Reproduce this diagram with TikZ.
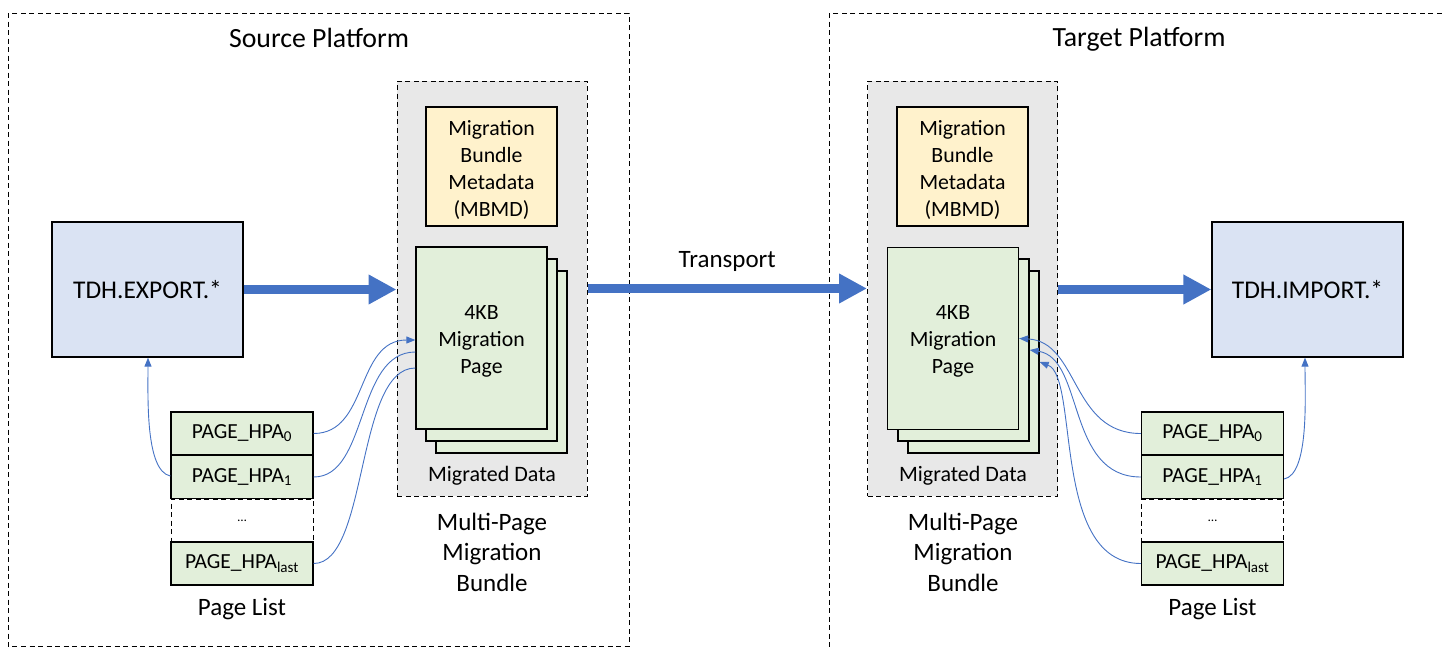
\documentclass[tikz,border=0pt]{standalone}
\usepackage{fontspec}
\setmainfont{Carlito}
\usetikzlibrary{arrows.meta,calc}
\definecolor{arrowblue}{HTML}{4472C4}
\definecolor{boxblue}{HTML}{DAE3F3}
\definecolor{pagegreen}{HTML}{E2EFDA}
\definecolor{metayellow}{HTML}{FFF2CC}
\definecolor{bundlegray}{HTML}{E8E8E8}
\tikzset{
  platform/.style={draw=black, line width=1pt, dash pattern=on 5pt off 3.5pt},
  bundlebox/.style={draw=black, fill=bundlegray, line width=1pt, dash pattern=on 5pt off 3.5pt, minimum width=190pt, minimum height=415pt, inner sep=0pt},
  tdhbox/.style={draw=black, fill=boxblue, line width=1.3pt, minimum width=191pt, minimum height=135pt, font=\fontsize{25.5}{30}\selectfont},
  metabox/.style={draw=black, fill=metayellow, line width=1.3pt, minimum width=131pt, minimum height=119pt},
  pagebox/.style={draw=black, fill=pagegreen, line width=1.3pt, minimum width=131pt, minimum height=182pt},
  boxtext/.style={inner sep=0pt, align=center, font=\fontsize{21.8}{27}\selectfont},
  hparow/.style={draw=black, fill=pagegreen, line width=1.3pt, minimum width=142pt, minimum height=43pt, inner sep=0pt, font=\fontsize{21.5}{24}\selectfont},
  dotrow/.style={draw=black, line width=1pt, dash pattern=on 5pt off 3.5pt, minimum width=142pt, minimum height=43pt, inner sep=0pt, font=\fontsize{13}{15}\selectfont},
  bigarrow/.style={draw=arrowblue, line width=9pt, -{Triangle[length=28pt,width=28pt]}},
  thinarrow/.style={draw=arrowblue, line width=0.9pt, -{Triangle[length=9pt,width=7pt]}},
  thinline/.style={draw=arrowblue, line width=0.9pt},
  lbl/.style={inner sep=0pt, align=center}
}
\begin{document}
\begin{tikzpicture}[x=1pt,y=-1pt]
\useasboundingbox (0,0) rectangle (1443,648);
\clip (0,0) rectangle (1443,648);
% platforms
\draw[platform] (8,13) rectangle (629,646);
\draw[platform] (829,13) rectangle (1460,670);
\node[lbl, font=\fontsize{27.8}{32}\selectfont] (srctitle) at (319,38) {Source Platform};
\node[lbl, font=\fontsize{27.8}{32}\selectfont] (tgttitle) at (1139,39) {Target Platform};
% bundles
\node[bundlebox] (sbundle) at (492,288.5) {};
\node[bundlebox] (tbundle) at (962.5,288.5) {};
\node[lbl, font=\fontsize{22}{26}\selectfont] (smig) at (492,476) {Migrated Data};
\node[lbl, font=\fontsize{22}{26}\selectfont] (tmig) at (963,476) {Migrated Data};
\node[lbl, font=\fontsize{25}{30.5}\selectfont] (sblabel) at (492,552) {Multi-Page\\Migration\\Bundle};
\node[lbl, font=\fontsize{25}{30.5}\selectfont] (tblabel) at (963,552) {Multi-Page\\Migration\\Bundle};
% metadata
\node[metabox] (smeta) at (491.5,166.5) {};
\node[boxtext] (smetatext) at ([yshift=-3pt]smeta.center) {Migration\\Bundle\\Metadata\\(MBMD)};
\node[metabox] (tmeta) at (962.5,166.5) {};
\node[boxtext] (tmetatext) at ([yshift=-3pt]tmeta.center) {Migration\\Bundle\\Metadata\\(MBMD)};
% TDH boxes
\node[tdhbox] (export) at (147.5,289.5) {TDH.EXPORT.*};
\node[tdhbox] (import) at (1307.5,289.5) {TDH.IMPORT.*};
% page lists
\node[dotrow] (sdots) at (242,520.5) {…};
\node[hparow] (shpa0) at (242,433.5) {PAGE\_HPA\textsubscript{0}};
\node[hparow] (shpa1) at (242,477) {PAGE\_HPA\textsubscript{1}};
\node[hparow] (slast) at (242,563.5) {PAGE\_HPA\textsubscript{last}};
\node[lbl, font=\fontsize{25}{28}\selectfont] (slist) at (242,609) {Page List};
\node[dotrow] (tdots) at (1212.5,520.5) {…};
\node[hparow] (thpa0) at (1212.5,433.5) {PAGE\_HPA\textsubscript{0}};
\node[hparow] (thpa1) at (1212.5,477) {PAGE\_HPA\textsubscript{1}};
\node[hparow] (tlast) at (1212.5,563.5) {PAGE\_HPA\textsubscript{last}};
\node[lbl, font=\fontsize{25}{28}\selectfont] (tlist) at (1212.5,609) {Page List};
% page stacks
\node[pagebox] (sp3) at (501.5,362) {};
\node[pagebox] (sp2) at (491.5,350) {};
\node[pagebox] (sp1) at (481.5,338) {};
\node[boxtext] (sp1text) at ([yshift=-3pt]sp1.center) {4KB\\Migration\\Page};
\node[pagebox] (tp3) at (973.5,362) {};
\node[pagebox] (tp2) at (963.5,350) {};
\node[pagebox] (tp1) at (953,338.5) {};
\node[boxtext] (tp1text) at ([yshift=-3pt]tp1.center) {4KB\\Migration\\Page};
% left thin connectors
\draw[thinarrow] (shpa0.east) .. controls +(55,0) and +(-60,0) .. ([yshift=-2pt]sp1.west);
\draw[thinline] (shpa1.east) .. controls +(55,0) and +(-60,0) .. ([yshift=-14pt]sp1.west);
\draw[thinline] (slast.east) .. controls +(55,0) and +(-60,0) .. ([yshift=-30pt]sp1.west);
\draw[thinarrow] ([yshift=1pt]shpa1.west) .. controls +(-25,-5) and +(0,40) .. ([xshift=0.5pt]export.south);
% right thin connectors
\draw[thinarrow] (thpa0.west) .. controls +(-70,0) and +(60,3) .. (tp1.east);
\draw[thinarrow] (thpa1.west) .. controls +(-75,0) and +(55,8) .. (tp2.east);
\draw[thinarrow] (tlast.west) .. controls +(-90,0) and +(40,15) .. (tp3.east);
\draw[thinarrow] ([yshift=-2pt]thpa1.east) .. controls +(25,-5) and +(0,40) .. ([xshift=-2.5pt]import.south);
% big arrows
\draw[bigarrow] (export.east) -- (sbundle.west |- export.east);
\draw[bigarrow] (sbundle.east) -- (tbundle.west) node[midway, above=9pt, font=\fontsize{25}{28}\selectfont, text=black] (transport) {Transport};
\draw[bigarrow] (tbundle.east |- import.west) -- (import.west);
\end{tikzpicture}
\end{document}
